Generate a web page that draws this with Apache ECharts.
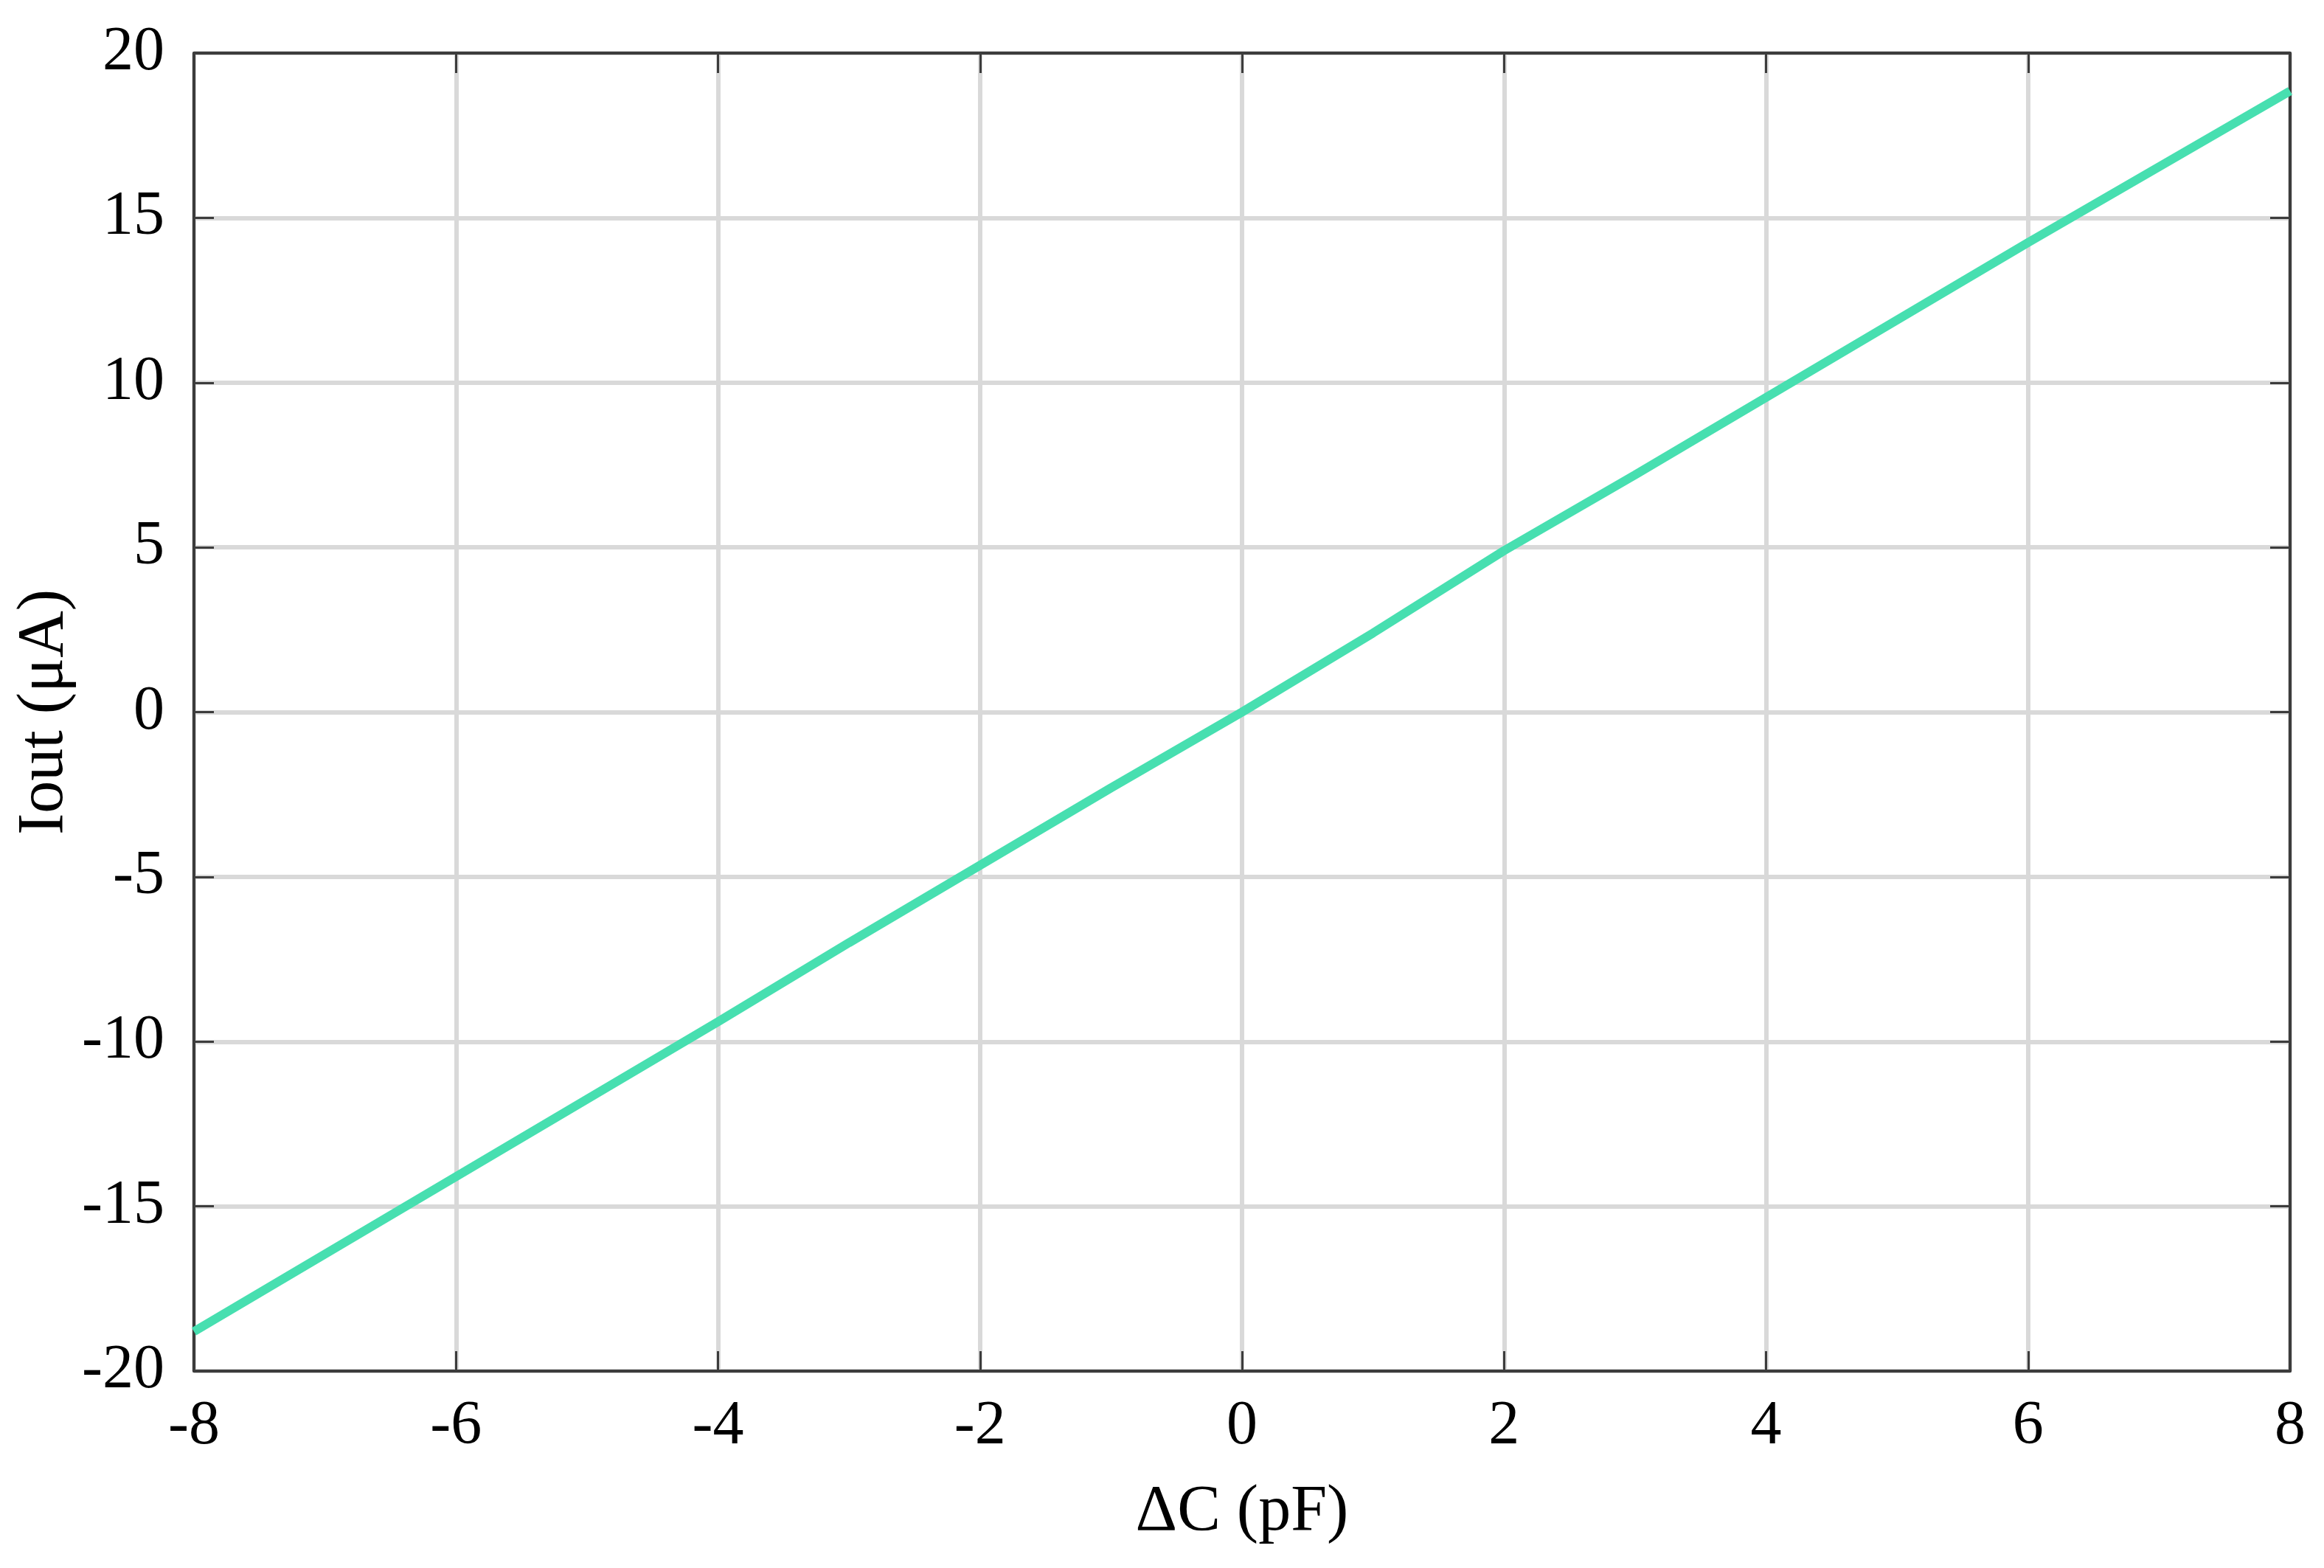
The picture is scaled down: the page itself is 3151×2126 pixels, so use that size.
<!DOCTYPE html>
<html>
<head>
<meta charset="utf-8">
<script src="https://cdn.jsdelivr.net/npm/echarts@6/dist/echarts.min.js"></script>
<style>
  html, body { margin: 0; padding: 0; background: #fff; }
  #chart { width: 3151px; height: 2126px; }
</style>
</head>
<body>
<div id="chart"></div>
<script>
// ΔC (pF) vs Iout (µA)
var deltaC = [-8, -7, -6, -5, -4, -3, -2, -1, 0, 1, 2, 3, 4, 5, 6, 7, 8]
var iout = [-18.8, -16.45, -14.1, -11.75, -9.4, -7.0, -4.65, -2.3, 0, 2.4, 4.9, 7.2, 9.55, 11.9, 14.25, 16.55, 18.85]

var xTicks = { min: -8, max: 8, interval: 2 }
var yTicks = { min: -20, max: 20, interval: 5 }

var font = 'Liberation Serif'
var axisColor = '#3c3c3c'
var gridColor = '#d9d9d9'

var points = deltaC.map(function (x, i) { return [x, iout[i]] })

// top / right copies of the axes, only for the frame and the inward ticks
function mirrorAxis(pos, range) {
  return {
    type: 'value',
    position: pos,
    min: range.min, max: range.max, interval: range.interval,
    axisLine: { show: true, onZero: false, lineStyle: { color: axisColor, width: 4 } },
    axisTick: { show: true, inside: true, length: 27, lineStyle: { color: axisColor, width: 3 } },
    axisLabel: { show: false },
    splitLine: { show: false }
  }
}

var myChart = echarts.init(document.getElementById('chart'))
myChart.setOption({
  animation: false,
  backgroundColor: '#ffffff',
  grid: { left: 263, right: 46, top: 72, bottom: 267, containLabel: false },
  xAxis: [{
    type: 'value',
    position: 'bottom',
    min: xTicks.min, max: xTicks.max, interval: xTicks.interval,
    name: 'ΔC (pF)',
    nameLocation: 'middle',
    nameGap: 148,
    nameMoveOverlap: false,
    nameTextStyle: { fontFamily: font, fontSize: 88, color: '#000' },
    axisLine: { show: true, onZero: false, lineStyle: { color: axisColor, width: 4 } },
    axisTick: { show: true, inside: true, length: 27, lineStyle: { color: axisColor, width: 3 } },
    axisLabel: { margin: 34, fontFamily: font, fontSize: 84, color: '#000' },
    splitLine: { show: true, lineStyle: { color: gridColor, width: 6 } }
  }, mirrorAxis('top', xTicks)],
  yAxis: [{
    type: 'value',
    position: 'left',
    min: yTicks.min, max: yTicks.max, interval: yTicks.interval,
    name: 'Iout (μA)',
    nameLocation: 'middle',
    nameGap: 158,
    nameMoveOverlap: false,
    nameTextStyle: { fontFamily: font, fontSize: 88, color: '#000' },
    axisLine: { show: true, onZero: false, lineStyle: { color: axisColor, width: 4 } },
    axisTick: { show: true, inside: true, length: 27, lineStyle: { color: axisColor, width: 3 } },
    axisLabel: { margin: 40, fontFamily: font, fontSize: 84, color: '#000' },
    splitLine: { show: true, lineStyle: { color: gridColor, width: 6 } }
  }, mirrorAxis('right', yTicks)],
  series: [{
    type: 'line',
    data: points,
    showSymbol: false,
    lineStyle: { color: '#47dfb0', width: 12 },
    z: 5
  }]
})
</script>
</body>
</html>
